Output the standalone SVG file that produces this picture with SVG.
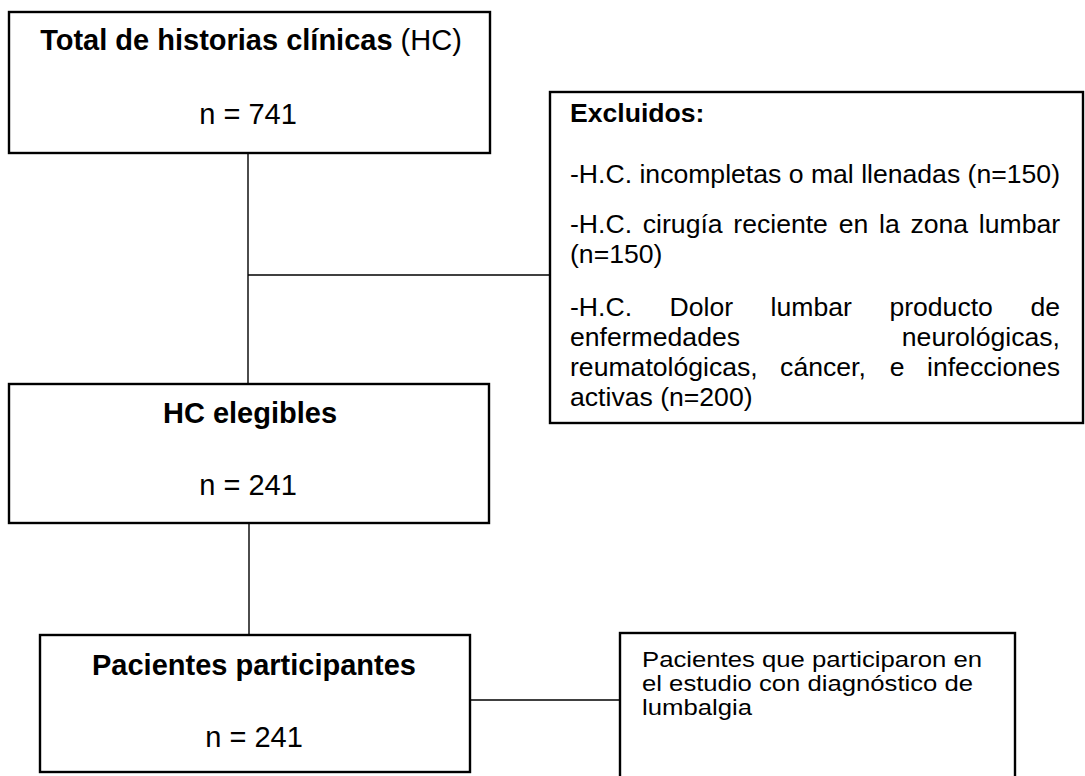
<svg xmlns="http://www.w3.org/2000/svg" width="1085" height="776" viewBox="0 0 1085 776">
<style>
.box{fill:#fff;stroke:#000;stroke-width:2.4}
.conn{stroke:#000;stroke-width:1.4;fill:none}
.t{font-family:"Liberation Sans",Arial,sans-serif;fill:#000}
.b{font-weight:bold}
.big{font-size:29px}
.mid{font-size:26.6px}
.sm{font-size:21.5px}
</style>
<rect width="1085" height="776" fill="#fff"/>
<g id="connectors">
<line class="conn" x1="248" y1="153" x2="248" y2="384"/>
<line class="conn" x1="248" y1="275" x2="550" y2="275"/>
<line class="conn" x1="249" y1="523" x2="249" y2="635"/>
<line class="conn" x1="470" y1="700" x2="620" y2="700"/>
</g>
<g id="total">
<rect class="box" x="9" y="12" width="481" height="141"/>
<text class="t big" x="251" y="50" text-anchor="middle"><tspan class="b">Total de historias clínicas</tspan> (HC)</text>
<text class="t big" x="248" y="124" text-anchor="middle">n = 741</text>
</g>
<g id="excluidos">
<rect class="box" x="550" y="92" width="533" height="331"/>
<text class="t mid b" x="570" y="122">Excluidos:</text>
<text class="t mid" x="570" y="183">-H.C. incompletas o mal llenadas (n=150)</text>
<text class="t mid" y="233"><tspan x="570">-H.C.</tspan><tspan x="642.8">cirugía</tspan><tspan x="733.3">reciente</tspan><tspan x="838.7">en</tspan><tspan x="879">la</tspan><tspan x="910.4">zona</tspan><tspan x="978.8">lumbar</tspan></text>
<text class="t mid" x="570" y="263">(n=150)</text>
<text class="t mid" y="316"><tspan x="570">-H.C.</tspan><tspan x="669.6">Dolor</tspan><tspan x="770.6">lumbar</tspan><tspan x="889.4">producto</tspan><tspan x="1030.4">de</tspan></text>
<text class="t mid" y="346"><tspan x="570">enfermedades</tspan><tspan x="1060" text-anchor="end">neurológicas,</tspan></text>
<text class="t mid" y="376"><tspan x="570">reumatológicas,</tspan><tspan x="780.1">cáncer,</tspan><tspan x="889.8">e</tspan><tspan x="927">infecciones</tspan></text>
<text class="t mid" x="570" y="406">activas (n=200)</text>
</g>
<g id="elegibles">
<rect class="box" x="9" y="384" width="480" height="139"/>
<text class="t big b" x="250" y="423" text-anchor="middle">HC elegibles</text>
<text class="t big" x="248" y="495" text-anchor="middle">n = 241</text>
</g>
<g id="participantes">
<rect class="box" x="40" y="635" width="430" height="137"/>
<text class="t big b" x="254" y="675" text-anchor="middle">Pacientes participantes</text>
<text class="t big" x="254" y="747" text-anchor="middle">n = 241</text>
</g>
<g id="lumbalgia">
<rect class="box" x="620" y="633" width="395" height="170"/>
<text class="t sm" x="642" y="667" textLength="340" lengthAdjust="spacingAndGlyphs">Pacientes que participaron en</text>
<text class="t sm" x="642" y="691" textLength="331" lengthAdjust="spacingAndGlyphs">el estudio con diagnóstico de</text>
<text class="t sm" x="642" y="715" textLength="110" lengthAdjust="spacingAndGlyphs">lumbalgia</text>
</g>
</svg>
